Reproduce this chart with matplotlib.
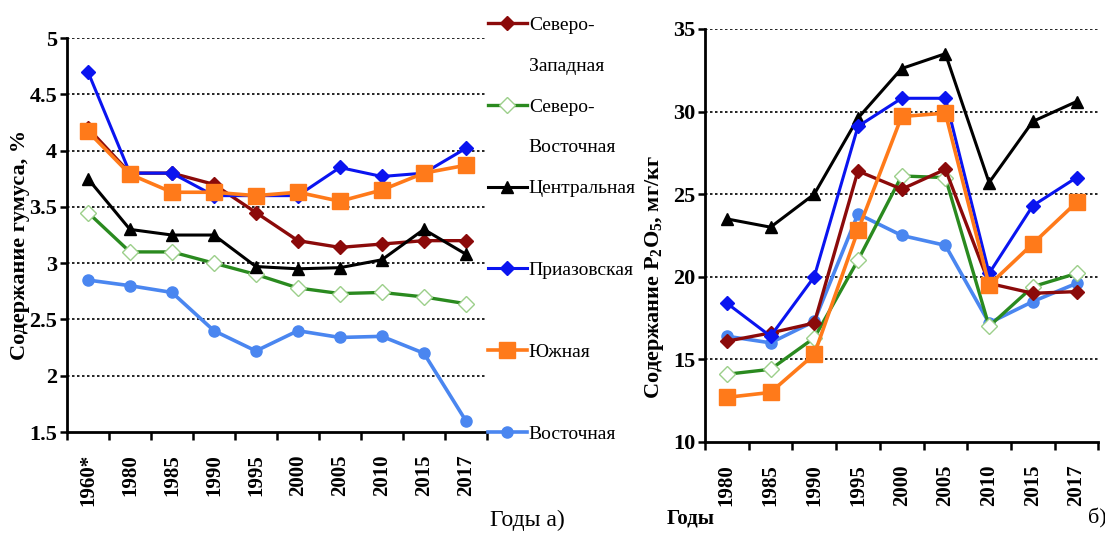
import numpy as np
import matplotlib
matplotlib.use("Agg")
import matplotlib.pyplot as plt
from matplotlib.lines import Line2D

plt.rcParams["font.family"] = ["Liberation Serif", "DejaVu Serif"]
plt.rcParams["mathtext.default"] = "regular"

# ---------------- data ----------------
years_a = ["1960*", "1980", "1985", "1990", "1995", "2000", "2005", "2010", "2015", "2017"]
years_b = ["1980", "1985", "1990", "1995", "2000", "2005", "2010", "2015", "2017"]

# legend rows (first line goes with the marker, the rest are text-only rows)
zone_rows = [["Северо-", "Западная"], ["Северо-", "Восточная"], ["Центральная", ""],
             ["Приазовская", ""], ["Южная", ""], ["Восточная"]]

# humus content, %
humus_nw = [4.20, 3.80, 3.80, 3.70, 3.45, 3.20, 3.14, 3.17, 3.20, 3.20]
humus_ne = [3.45, 3.10, 3.10, 3.00, 2.90, 2.78, 2.73, 2.74, 2.70, 2.64]
humus_c = [3.75, 3.30, 3.25, 3.25, 2.97, 2.95, 2.96, 3.03, 3.30, 3.08]
humus_az = [4.70, 3.80, 3.80, 3.60, 3.60, 3.60, 3.85, 3.77, 3.80, 4.02]
humus_s = [4.17, 3.79, 3.63, 3.63, 3.60, 3.63, 3.55, 3.65, 3.80, 3.87]
humus_e = [2.85, 2.80, 2.74, 2.40, 2.22, 2.40, 2.34, 2.35, 2.20, 1.60]

# P2O5 content, mg/kg
p_nw = [16.1, 16.6, 17.2, 26.4, 25.3, 26.5, 19.6, 19.0, 19.1]
p_ne = [14.1, 14.4, 16.3, 21.0, 26.1, 26.0, 17.0, 19.4, 20.2]
p_c = [23.5, 23.0, 25.0, 29.6, 32.6, 33.5, 25.7, 29.4, 30.6]
p_az = [18.4, 16.4, 20.0, 29.1, 30.8, 30.8, 20.2, 24.3, 26.0]
p_s = [12.7, 13.0, 15.3, 22.8, 29.7, 29.9, 19.5, 22.0, 24.5]
p_e = [16.4, 16.0, 17.3, 23.8, 22.5, 21.9, 17.2, 18.5, 19.6]

# ---------------- styles ----------------
styles = [
    dict(color="#8b0a0a", marker="D", ms=7, mfc="#8b0a0a", mec="#8b0a0a", lw=2.4),
    dict(color="#2a8a1f", marker="D", ms=8, mfc="white", mec="#9ccf8a", lw=2.4),
    dict(color="black", marker="^", ms=9, mfc="black", mec="black", lw=2.2),
    dict(color="#0a14f0", marker="D", ms=7, mfc="#0a14f0", mec="#0a14f0", lw=2.2),
    dict(color="#ff7a1a", marker="s", ms=12, mfc="#ff7a1a", mec="#ff7a1a", lw=2.6),
    dict(color="#4a86f0", marker="o", ms=8, mfc="#4a86f0", mec="#4a86f0", lw=2.6),
]

fig = plt.figure(figsize=(11.05, 5.45), dpi=100)
ax1 = fig.add_axes([0.0606, 0.2073, 0.380, 0.7229])
ax2 = fig.add_axes([0.638, 0.189, 0.356, 0.758])


def style_axis(ax, labels, ylim, yticks, ytl):
    n = len(labels)
    x = np.arange(n)
    ax.set_xlim(-0.5, n - 0.5)
    ax.set_ylim(*ylim)
    ax.set_xticks(np.arange(n + 1) - 0.5)
    ax.set_xticklabels([])
    ax.set_xticks(x, minor=True)
    ax.set_xticklabels(labels, minor=True, rotation=90, fontsize=15,
                       fontweight="bold")
    ax.tick_params(axis="x", which="major", length=6, width=1.8,
                   direction="out")
    ax.tick_params(axis="x", which="minor", length=0, pad=16)
    ax.set_yticks(yticks)
    ax.set_yticklabels(ytl, fontsize=16, fontweight="bold")
    ax.tick_params(axis="y", length=5, width=1.8, direction="out", pad=2)
    for v in yticks[1:]:
        ax.axhline(v, color="black", lw=1.2, ls=(0, (1.5, 1.5)), zorder=0)
    for s in ["top", "right"]:
        ax.spines[s].set_visible(False)
    for s in ["left", "bottom"]:
        ax.spines[s].set_linewidth(2)
    return x


xa = style_axis(ax1, years_a, (1.5, 5.0),
                [1.5, 2, 2.5, 3, 3.5, 4, 4.5, 5],
                ["1.5", "2", "2.5", "3", "3.5", "4", "4.5", "5"])
xb = style_axis(ax2, years_b, (10, 35),
                [10, 15, 20, 25, 30, 35],
                ["10", "15", "20", "25", "30", "35"])

humus = [humus_nw, humus_ne, humus_c, humus_az, humus_s, humus_e]
phos = [p_nw, p_ne, p_c, p_az, p_s, p_e]
order = [5, 1, 0, 2, 3, 4]
handles = [None] * 6
for i in order:
    st = styles[i]
    h, = ax1.plot(xa, humus[i], color=st["color"], marker=st["marker"],
                  ms=st["ms"], mfc=st["mfc"], mec=st["mec"], lw=st["lw"],
                  clip_on=False)
    handles[i] = h
    ax2.plot(xb, phos[i], color=st["color"], marker=st["marker"],
             ms=st["ms"], mfc=st["mfc"], mec=st["mec"], lw=st["lw"],
             clip_on=False)

ax1.set_ylabel("Содержание гумуса, %", fontsize=16, fontweight="bold")
ax1.yaxis.set_label_coords(-0.088, 0.475)
ax2.set_ylabel("Содержание P$_2$O$_5$, мг/кг", fontsize=16,
               fontweight="bold")
ax2.yaxis.set_label_coords(-0.1, 0.40)

# legend: one row per text line, blank handle for continuation lines
blank = Line2D([], [], color="none")
leg_handles, leg_labels = [], []
for h, rows in zip(handles, zone_rows):
    for k, txt in enumerate(rows):
        leg_handles.append(h if k == 0 else blank)
        leg_labels.append(txt)

fig.legend(leg_handles, leg_labels, loc="upper left",
           bbox_to_anchor=(0.431, 0.992), frameon=False, fontsize=14,
           labelspacing=1.2, handlelength=2.0, handletextpad=0.1,
           borderaxespad=0.2)

fig.text(0.443, 0.025, "Годы а)", fontsize=17, ha="left", va="bottom")
fig.text(0.603, 0.03, "Годы", fontsize=15, fontweight="bold",
         ha="left", va="bottom")
fig.text(0.985, 0.03, "б)", fontsize=16, ha="left", va="bottom")

fig.savefig("out.png", dpi=100)
